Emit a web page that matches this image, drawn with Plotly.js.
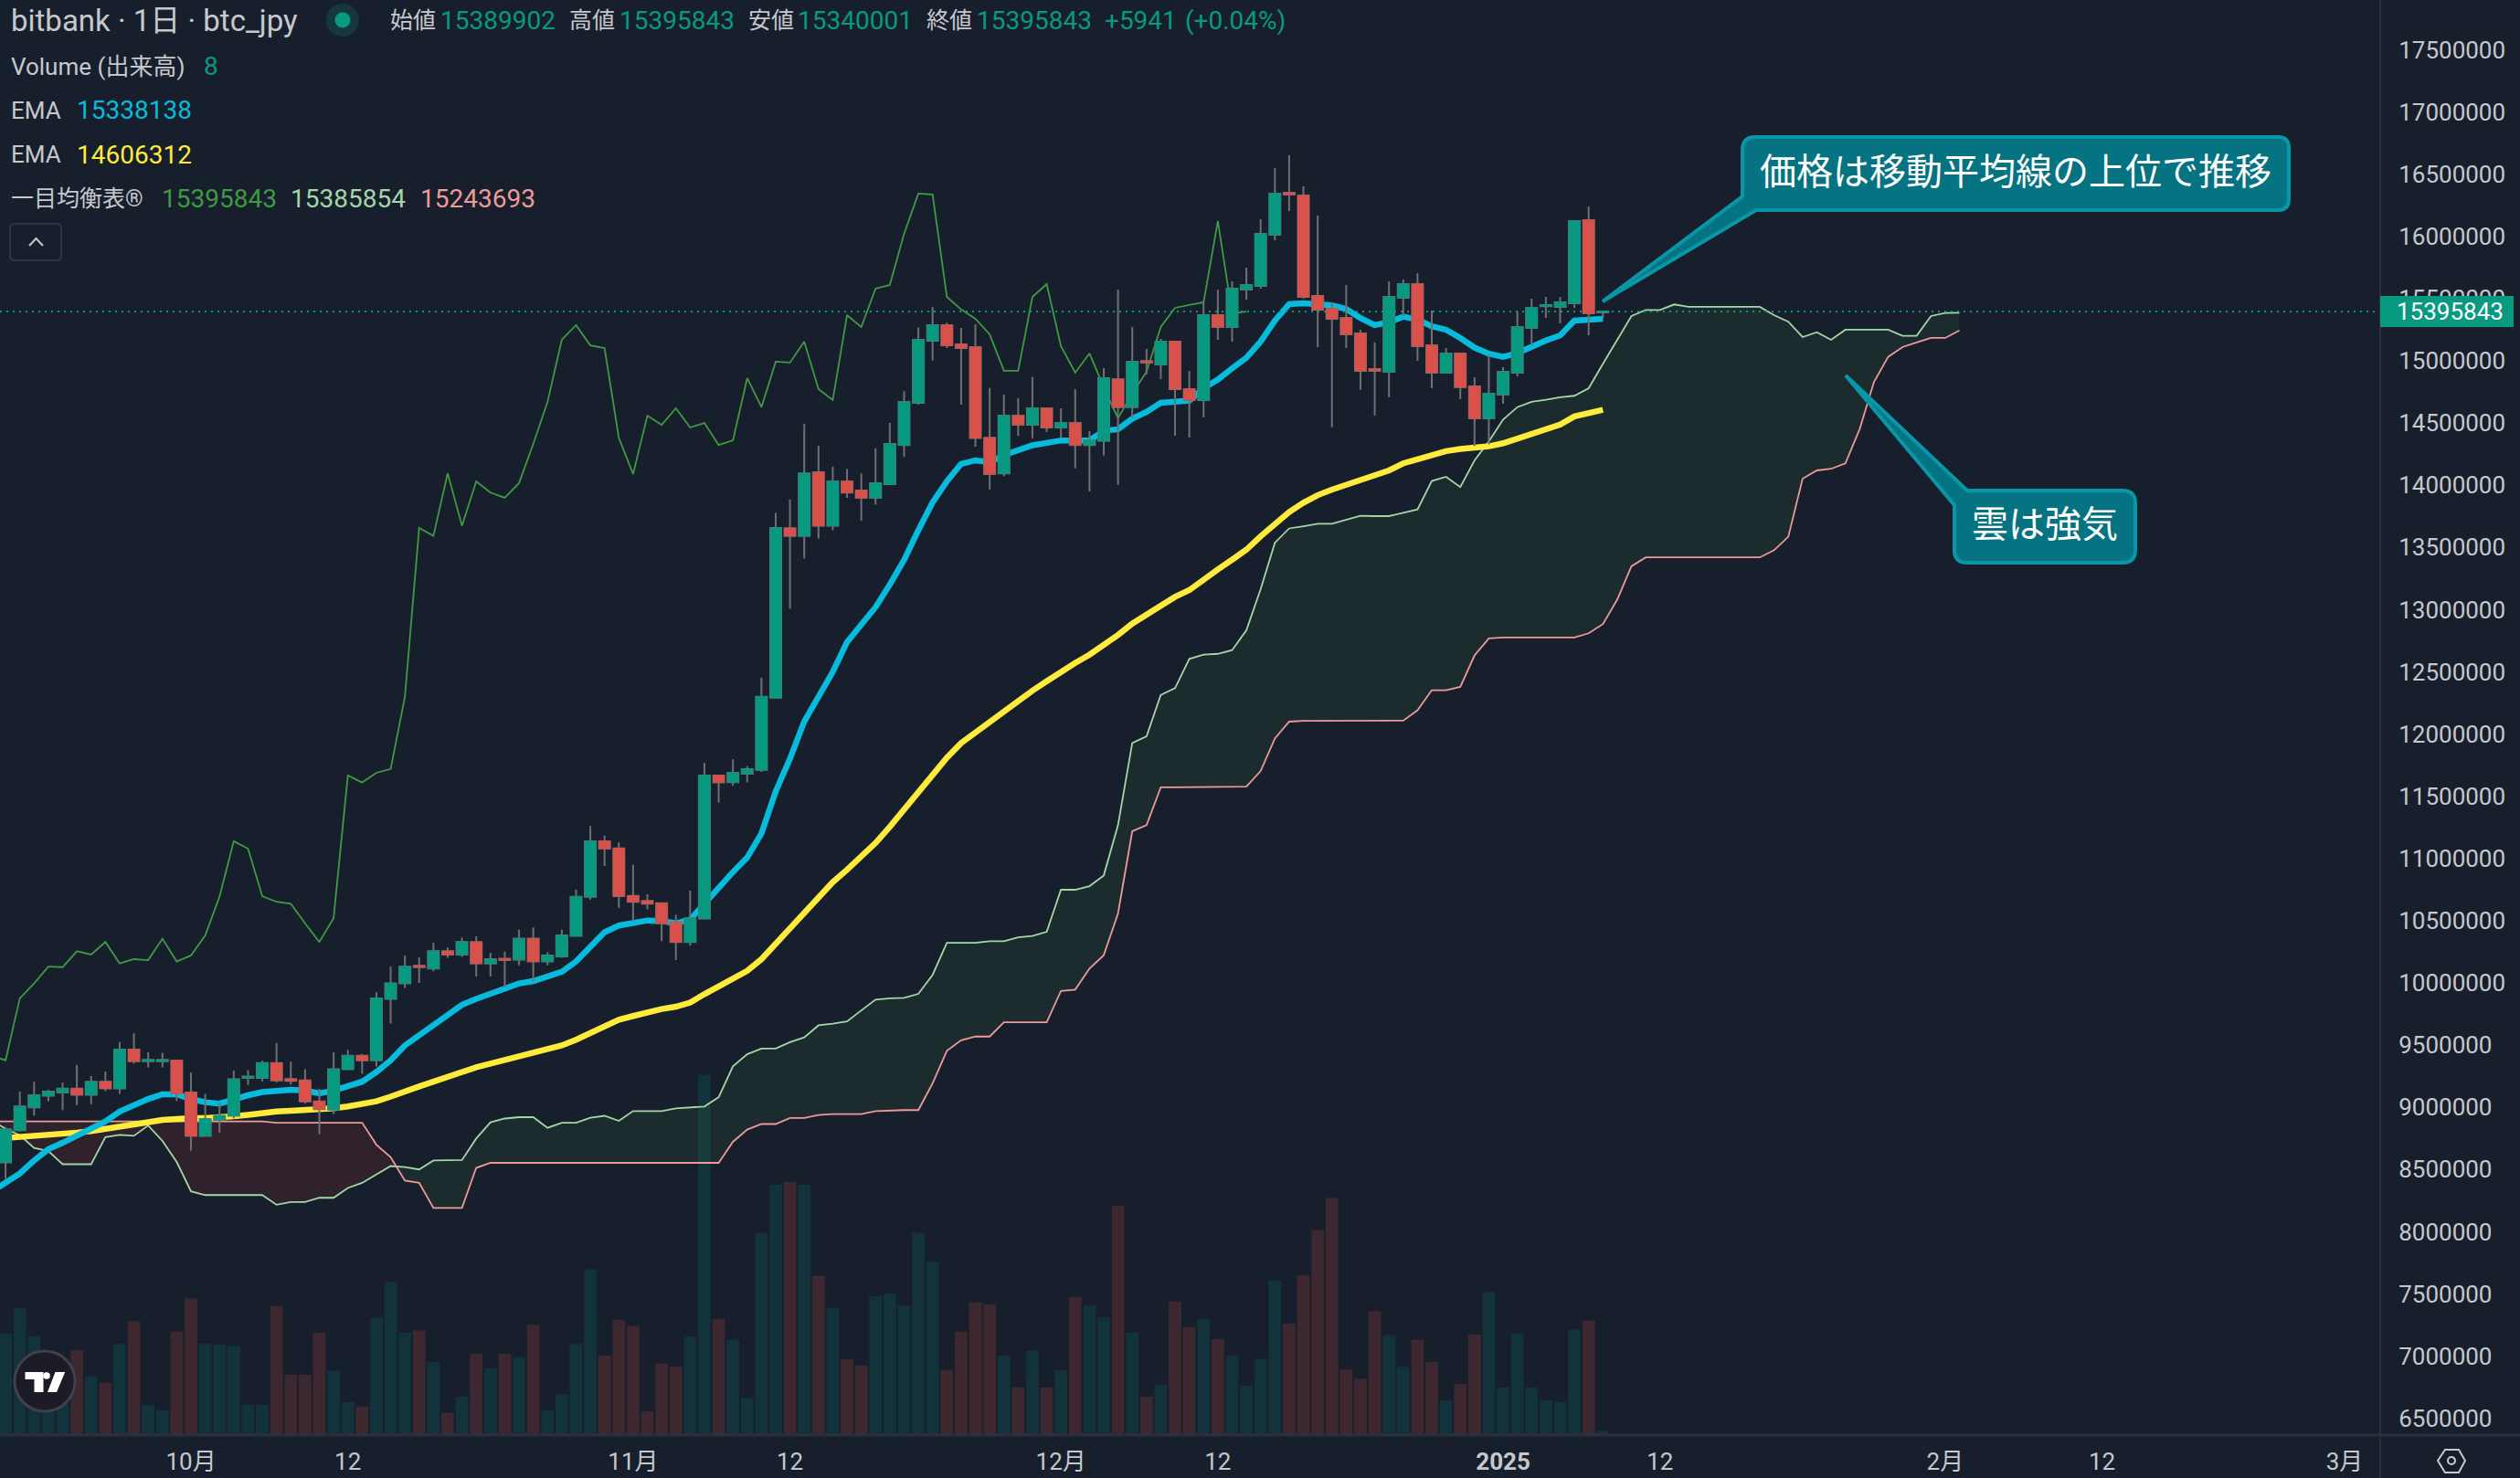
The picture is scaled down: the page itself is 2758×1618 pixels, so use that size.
<!DOCTYPE html>
<html lang="ja">
<head>
<meta charset="utf-8">
<title>bitbank BTC/JPY</title>
<script src="https://cdn.plot.ly/plotly-3.0.1.min.js"></script>
<style>html,body{margin:0;padding:0;background:#181f2c}#chart{width:2758px;height:1618px}</style>
</head>
<body>
<div id="chart"></div>
<script>
// All prices are in thousand JPY; first row entry is 2024-09-17.
const startDate = '2024-09-17';
const openK = [8450,
 8558,8816,9000,9093,9120,9150,9101,9206,9153,9464,9371,9371,9376,
 9120,8771,8899,8932,9236,9236,9356,9228,9217,9048,
 8981,9307,9415,9378,9872,9996,10138,10116,10255,10228,
 10329,10157,10195,10187,10356,10172,10213,10378,10693,11139,
 11082,10700,10659,10640,10487,10329,10517,11667,11614,11682,
 11712,12292,13655,13593,14104,13674,14031,13958,13899,14009,
 14323,14663,15161,15287,15133,15110,14382,14096,14559,14486,
 14618,14464,14500,14323,14357,14851,14628,14998,14971,15155,
 14773,14685,15367,15272,15573,15602,16014,16351,16329,15522,
 15419,15345,15221,14934,14912,15507,15617,15125,14905,15059,
 14795,14538,14729,14905,15265,15438,15434,15463,16131,15389.902];
const highK = [8640,
 8842,9127,9206,9142,9198,9341,9251,9288,9524,9595,9442,9438,9376,
 9281,9108,9041,9296,9299,9374,9517,9367,9307,9150,
 9442,9460,9430,9925,10131,10221,10206,10322,10284,10363,
 10374,10243,10251,10427,10446,10247,10427,10749,11262,11184,
 11131,10951,10712,10640,10547,10742,11768,11667,11798,11742,
 12453,13778,13885,14492,14318,14149,14130,14096,14298,14500,
 14756,15268,15431,15307,15265,15293,14781,14728,14700,14869,
 14618,14618,14773,14436,14942,15573,15272,15096,15177,15160,
 14920,15478,15573,15639,15749,16138,16549,16652,16403,16168,
 15470,15610,15250,15147,15639,15654,15705,15404,15103,15059,
 14868,15045,14949,15397,15500,15514,15514,16124,16241,15395.843];
const lowK = [8400,
 8423,8805,8932,9048,8977,9018,9026,9131,9108,9352,9322,9322,9052,
 8651,8764,8797,8910,9179,9209,9198,9183,9030,8786,
 8947,9299,9269,9329,9674,9959,10000,10094,10202,10210,
 10052,10052,9966,10142,10011,10142,10202,10371,10670,10940,
 10603,10498,10592,10337,10183,10300,10517,11450,11584,11611,
 11697,12292,13006,13410,13570,13638,13899,13716,13843,14000,
 14228,14647,15001,15102,14647,14309,13967,14073,14396,14377,
 14427,14382,14135,13950,14239,14004,14543,14890,14854,14398,
 14384,14545,15169,15155,15492,15580,15969,16204,15500,15111,
 14465,15103,14766,14560,14707,15360,15000,14780,14905,14692,
 14315,14328,14655,14876,15125,15345,15301,15426,15206,15340.001];
const closeK = [8558,
 8824,9007,9097,9127,9150,9101,9206,9153,9464,9371,9382,9382,9112,
 8771,8906,8932,9225,9247,9356,9217,9213,9048,8985,
 9307,9415,9378,9876,9996,10131,10127,10255,10228,10329,
 10157,10191,10183,10356,10172,10221,10382,10693,11139,11079,
 10697,10652,10637,10479,10329,10520,11667,11611,11689,11719,
 12300,13656,13593,14096,13674,14031,13941,13899,14017,14332,
 14669,15169,15287,15124,15102,14380,14090,14559,14486,14618,
 14464,14500,14323,14360,14861,14628,14993,14986,15155,14773,
 14685,15367,15272,15580,15610,16021,16344,16337,15514,15412,
 15338,15213,14920,14920,15514,15617,15118,14905,15059,14788,
 14538,14736,14912,15272,15426,15448,15470,16124,15382,15395.843];
const volume = [171,
 175,219,170,64,53,146,101,90,157,196,51,43,178,
 235,157,156,153,52,52,222,104,104,176,
 111,57,49,202,264,176,180,126,38,66,
 140,115,140,134,190,43,70,157,285,137,
 198,188,41,123,118,170,620,200,164,64,
 348,431,436,431,274,219,131,120,239,244,
 223,348,298,112,178,229,225,137,82,145,
 82,112,238,223,203,395,176,66,87,230,
 186,200,165,137,85,131,266,192,275,353,
 408,113,97,213,172,117,164,126,60,88,
 173,246,82,175,82,60,57,182,197,8];
const emaFast = [8320,8400,8468,8573,8663,8715,8775,8831,8887,8966,
 9018,9067,9105,9105,9067,9041,9030,9067,9097,9123,
 9138,9142,9135,9112,9135,9172,9206,9284,9378,9498,
 9580,9674,9749,9824,9872,9910,9947,9996,10015,10049,
 10090,10172,10296,10408,10461,10483,10502,10498,10479,10509,
 10640,10771,10891,11007,11202,11539,11802,12101,12303,12500,
 12739,12879,13020,13202,13399,13638,13862,14031,14172,14200,
 14186,14242,14278,14321,14340,14360,14360,14360,14438,14450,
 14535,14589,14663,14675,14680,14780,14849,14939,15025,15155,
 15323,15456,15463,15456,15446,15416,15343,15287,15311,15355,
 15331,15277,15250,15184,15106,15057,15032,15062,15115,15164,
 15204,15323,15331,15338.138];
const emaSlow = [8745,8752,8760,8767,8779,8790,8797,8809,8824,8842,
 8861,8880,8899,8910,8914,8914,8917,8929,8940,8955,
 8966,8973,8977,8981,8992,9007,9022,9048,9086,9131,
 9168,9206,9247,9284,9322,9352,9382,9412,9438,9464,
 9498,9543,9599,9655,9704,9734,9764,9790,9809,9842,
 9910,9974,10034,10097,10191,10315,10445,10570,10690,10810,
 10910,11015,11125,11255,11395,11540,11680,11810,11928,12014,
 12100,12185,12271,12349,12425,12503,12572,12638,12711,12797,
 12888,12961,13042,13103,13157,13245,13323,13401,13482,13590,
 13695,13785,13860,13920,13965,14005,14041,14075,14119,14176,
 14210,14242,14274,14291,14298,14313,14337,14376,14413,14450,
 14487,14553,14582,14606.312];
const leadA = [8898,8827,8775,8674,8648,8543,8543,8543,8760,8779,8771,8854,8730,8561,
 8325,8295,8295,8295,8295,8295,8217,8239,8239,8273,
 8273,8352,8393,8460,8528,8520,8501,8573,8573,8576,
 8749,8880,8910,8921,8921,8835,8876,8876,8917,8932,
 8891,8970,8970,8970,8992,9000,9007,9082,9329,9427,
 9472,9472,9524,9562,9659,9672,9691,9779,9866,9877,
 9880,9912,10065,10323,10323,10323,10335,10335,10367,10377,
 10411,10749,10749,10778,10864,11268,11928,11982,12315,12369,
 12604,12638,12645,12675,12834,13164,13538,13653,13671,13690,
 13690,13722,13754,13752,13752,13779,13806,14034,14068,13985,
 14200,14352,14528,14628,14670,14687,14707,14719,14780,14976,
 15172,15360,15409,15409,15453,15434,15434,15434,15434,15434,
 15434,15367,15314,15191,15230,15169,15250,15250,15250,15250,
 15201,15201,15360,15385,15385.854];
const leadB = [8887,8887,8887,8887,8887,8887,8887,8887,8887,8887,
 8887,8887,8887,8887,8887,8887,8887,8887,8887,8887,
 8876,8876,8876,8876,
 8876,8876,8876,8700,8599,8411,8393,8191,8191,8191,
 8513,8554,8554,8554,8554,8554,8554,8554,8554,8554,
 8554,8554,8554,8554,8554,8554,8554,8554,8723,8821,
 8866,8866,8914,8914,8938,8946,8946,8946,8970,8975,
 8978,8978,9193,9454,9539,9569,9569,9683,9683,9683,
 9683,9936,9946,10115,10223,10558,11219,11268,11573,11573,
 11573,11573,11573,11573,11578,11703,11965,12100,12107,12107,
 12107,12107,12107,12108,12108,12108,12191,12353,12353,12380,
 12632,12769,12776,12776,12776,12776,12776,12776,12810,12884,
 13080,13349,13420,13420,13420,13420,13420,13420,13420,13420,
 13420,13478,13586,14053,14119,14132,14176,14450,14829,15032,
 15110,15147,15184,15184,15243.693];
const lastPriceJpy = 15395843;
const tickDates = ['2024-10-01','2024-10-12','2024-11-01','2024-11-12','2024-12-01','2024-12-12','2025-01-01','2025-01-12','2025-02-01','2025-02-12','2025-03-01'];
const tickLabels = ['10月','12','11月','12','12月','12','<b>2025</b>','12','2月','12','3月'];

const BG='#181f2c', UP='#089981', DOWN='#d9514b', WICK='#6e7073', TXT='#c6c8cc';
const UI='Roboto, "Noto Sans CJK JP", sans-serif', JP='"Noto Sans CJK JP", Roboto, sans-serif';
const PW=2605, PH=1571;

const DAY=86400000, t0=Date.parse(startDate);
const dates=leadA.map((_,i)=>new Date(t0+i*DAY).toISOString().slice(0,10));
const toY=a=>a.map(v=>v*1000);
const candleDates=dates.slice(0,openK.length);
const xRange=['2024-09-17 14:38','2025-03-03 12:00'];
const yRange=[6366000,17900000];

// Cloud polygons: one per run of same-sign leadA-leadB, closed at the exact crossing.
function cloudTraces(){
  const traces=[]; let xs=[],as=[],bs=[],sign=null;
  const flush=()=>{ if(xs.length>1) traces.push({type:'scatter',mode:'lines',xaxis:'x',yaxis:'y2',
      x:xs.concat(xs.slice().reverse()),y:toY(as.concat(bs.slice().reverse())),fill:'toself',
      fillcolor:sign>0?'rgba(67,160,71,0.10)':'rgba(244,67,54,0.11)',line:{width:0},hoverinfo:'skip'}); };
  leadA.forEach((a,i)=>{
    const b=leadB[i], s=a>=b?1:-1;
    if(sign!==null&&s!==sign){
      const d0=leadA[i-1]-leadB[i-1], d1=a-b, f=d0/(d0-d1);
      const xc=new Date(t0+(i-1+f)*DAY).toISOString(), yc=leadA[i-1]+f*(a-leadA[i-1]);
      xs.push(xc);as.push(yc);bs.push(yc); flush();
      xs=[xc];as=[yc];bs=[yc];
    }
    sign=s; xs.push(dates[i]);as.push(a);bs.push(b);
  });
  flush();
  return traces;
}
const line=(y,x,color,width,extra)=>Object.assign({type:'scatter',mode:'lines',xaxis:'x',yaxis:'y2',x,y:toY(y),line:{color,width},hoverinfo:'skip'},extra||{});

const traces=[
 {type:'bar',xaxis:'x',yaxis:'y',x:candleDates,y:volume,
  marker:{color:openK.map((o,i)=>closeK[i]>=o?'#13333c':'#3d2830'),line:{width:0}},hoverinfo:'skip'},
 ...cloudTraces(),
 line(leadA,dates,'#a5d6a7',1.8),
 line(leadB,dates,'#ef9a9a',1.8),
 line(closeK.slice(25),dates,'#3f9a42',1.8),
 line(emaSlow,candleDates,'#ffeb3b',6.5),
 line(emaFast,candleDates,'#07bbdd',6.5),
 {type:'scatter',mode:'lines',xaxis:'x',yaxis:'y2',x:xRange,y:[lastPriceJpy,lastPriceJpy],
  line:{color:UP,width:2,dash:'2px,5px'},hoverinfo:'skip'},
 {type:'candlestick',xaxis:'x',yaxis:'y3',x:candleDates,open:toY(openK),high:toY(highK),low:toY(lowK),close:toY(closeK),
  increasing:{line:{color:WICK,width:2},fillcolor:WICK},decreasing:{line:{color:WICK,width:2},fillcolor:WICK},whiskerwidth:0,hoverinfo:'skip'},
 {type:'candlestick',xaxis:'x',yaxis:'y3',x:candleDates,open:toY(openK),close:toY(closeK),
  high:toY(openK.map((o,i)=>Math.max(o,closeK[i]))),low:toY(openK.map((o,i)=>Math.min(o,closeK[i]))),
  increasing:{line:{color:UP,width:1},fillcolor:UP},decreasing:{line:{color:DOWN,width:1},fillcolor:DOWN},whiskerwidth:0,hoverinfo:'skip'}
];

const fx=x=>(x/PW).toFixed(6), fy=y=>(1-y/PH).toFixed(6);
const P=(x,y)=>fx(x)+','+fy(y);
function pathOf(cmds){return cmds.map(c=>c[0]+' '+c.slice(1).reduce((acc,v,i,arr)=>{if(i%2===0)acc.push(P(v,arr[i+1]));return acc;},[]).join(' ')).join(' ');}
const pShape=(path,fill,color,width)=>({type:'path',xref:'paper',yref:'paper',path,fillcolor:fill||'rgba(0,0,0,0)',line:{color:color||'rgba(0,0,0,0)',width:width||0},layer:'above'});
const rect=(x0,y0,x1,y1,fill)=>({type:'rect',xref:'paper',yref:'paper',x0:+fx(x0),x1:+fx(x1),y0:+fy(y0),y1:+fy(y1),fillcolor:fill,line:{width:0},layer:'above'});
const circle=(cx,cy,r,fill,color,width)=>({type:'circle',xref:'paper',yref:'paper',x0:+fx(cx-r),x1:+fx(cx+r),y0:+fy(cy+r),y1:+fy(cy-r),fillcolor:fill,line:{color:color||'rgba(0,0,0,0)',width:width||0},layer:'above'});
const seg=(x0,y0,x1,y1,color,width)=>({type:'line',xref:'paper',yref:'paper',x0:+fx(x0),x1:+fx(x1),y0:+fy(y0),y1:+fy(y1),line:{color,width},layer:'above'});
function rounded(L,T,R,B,r){return [['M',L+r,T],['L',R-r,T],['Q',R,T,R,T+r],['L',R,B-r],['Q',R,B,R-r,B],['L',L+r,B],['Q',L,B,L,B-r],['L',L,T+r],['Q',L,T,L+r,T],['Z']];}

const shapes=[
 seg(PW,0,PW,1618,'#2b303c',2),
 seg(0,PH,2758,PH,'#2b303c',3),
 rect(2605,324,2751,358,UP),
 // callout 1
 pShape(pathOf([['M',1921,150],['L',2493,150],['Q',2505,150,2505,162],['L',2505,218],['Q',2505,230,2493,230],['L',1922,230],['L',1754,330],['L',1907,215],['L',1907,164],['Q',1907,150,1921,150],['Z']]),'#067382','#0897a8',4),
 // callout 2
 pShape(pathOf([['M',2153,537],['L',2323,537],['Q',2337,537,2337,551],['L',2337,602],['Q',2337,616,2323,616],['L',2153,616],['Q',2139,616,2139,602],['L',2139,553],['L',2020,411],['Z']]),'#067382','#0897a8',4),
 // TradingView badge
 circle(49,1512,33,'#1c1c28','#3f4248',3),
 pShape(pathOf([['M',27.5,1502],['L',47.5,1502],['L',47.5,1524],['L',37.5,1524],['L',37.5,1510],['L',27.5,1510],['Z']]),'#ffffff'),
 circle(51,1506,3.8,'#ffffff'),
 pShape(pathOf([['M',60.5,1502],['L',71.2,1502],['L',62,1524],['L',52,1524],['Z']]),'#ffffff'),
 // status dot
 circle(375,22,18,'rgba(8,153,129,0.2)'),
 circle(375,22,8.5,UP),
 // collapse button
 pShape(pathOf(rounded(11,245,67,285,5)),'rgba(0,0,0,0)','#2f3440',2),
 pShape(pathOf([['M',32,269],['L',39.5,261],['L',47,269]]),'rgba(0,0,0,0)','#c6c8cc',2),
 // settings icon
 pShape(pathOf([['M',2668,1599],['L',2676,1587],['L',2691,1587],['L',2698,1599],['L',2691,1612],['L',2676,1612],['Z']]),'rgba(0,0,0,0)','#c6c8cc',2),
 circle(2683,1599,4,'rgba(0,0,0,0)','#c6c8cc',2)
];

const note=(x,y,text,color,size,family,xanchor)=>({xref:'paper',yref:'paper',x:+fx(x),y:+fy(y),text,showarrow:false,xanchor:xanchor||'left',yanchor:'middle',borderpad:0,
  font:{color,size:size||28,family:family||UI}});
const annotations=[
 note(11,23,'bitbank · 1日 · btc_jpy',TXT,33),
 note(426,23,'始値',TXT,25),note(481,23,'15389902',UP),
 note(622,23,'高値',TXT,25),note(677,23,'15395843',UP),
 note(818,23,'安値',TXT,25),note(872,23,'15340001',UP),
 note(1013,23,'終値',TXT,25),note(1068,23,'15395843',UP),
 note(1208,23,'+5941',UP),note(1296,23,'(+0.04%)',UP),
 note(11,73,'Volume (出来高)',TXT,26),note(222,73,'8',UP),
 note(11,121,'EMA',TXT,26),note(83,121,'15338138','#07bbdd'),
 note(11,169,'EMA',TXT,26),note(83,169,'14606312','#ffeb3b'),
 note(11,217,'一目均衡表®',TXT,25),note(176,217,'15395843','#3f9a42'),note(317,217,'15385854','#a5d6a7'),note(459,217,'15243693','#ef9a9a'),
 note(2622,341,'15395843','#ffffff',26),
 note(2206,185,'価格は移動平均線の上位で推移','#ffffff',40,JP,'center'),
 note(2238,571,'雲は強気','#ffffff',40,JP,'center')
];

const layout={
 width:2758,height:1618,autosize:false,showlegend:false,
 paper_bgcolor:BG,plot_bgcolor:BG,
 margin:{l:0,r:153,t:0,b:47,pad:0},
 bargap:0.12,boxmode:'overlay',boxgap:0.23,boxgroupgap:0,
 xaxis:{type:'date',range:xRange,tickmode:'array',tickvals:tickDates,ticktext:tickLabels,showgrid:false,zeroline:false,showline:false,
  ticks:'outside',ticklen:6,tickcolor:'rgba(0,0,0,0)',tickangle:0,tickfont:{color:TXT,size:26,family:UI},rangeslider:{visible:false},fixedrange:true},
 yaxis:{visible:false,range:[0,2471],fixedrange:true},
 yaxis2:{overlaying:'y',side:'right',anchor:'x',range:yRange,tick0:6500000,dtick:500000,tickformat:'d',showgrid:false,zeroline:false,showline:false,
  ticks:'outside',ticklen:14,tickcolor:'rgba(0,0,0,0)',tickfont:{color:TXT,size:26,family:UI},fixedrange:true},
 yaxis3:{overlaying:'y',visible:false,anchor:'x',range:yRange,fixedrange:true},
 shapes,annotations
};
Plotly.newPlot('chart',traces,layout,{displayModeBar:false,responsive:false,staticPlot:true});
</script>
</body>
</html>
